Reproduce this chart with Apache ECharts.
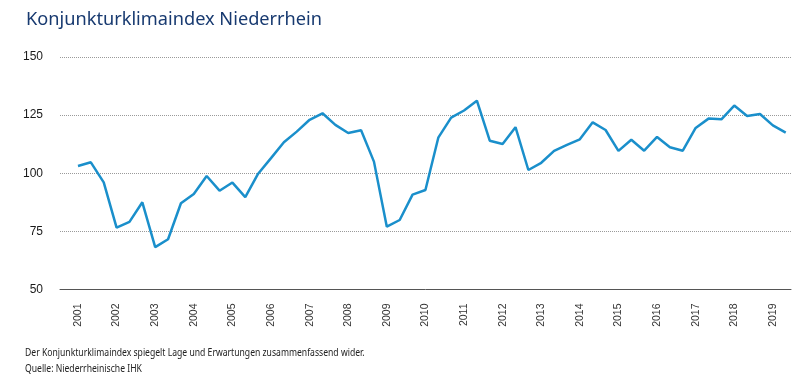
<!DOCTYPE html>
<html>
<head>
<meta charset="utf-8">
<script src="https://cdn.jsdelivr.net/npm/echarts@6/dist/echarts.min.js"></script>
<style>
html,body{margin:0;padding:0;background:#fff;}
#c{width:810px;height:384px;}
</style>
</head>
<body>
<div id="c"></div>
<script>
// Data (3 surveys per year, starting 2001)
const titleText = "Konjunkturklimaindex Niederrhein";
const noteLines = [
  "Der Konjunkturklimaindex spiegelt Lage und Erwartungen zusammenfassend wider.",
  "Quelle: Niederrheinische IHK"
];
const startYear = 2001;
const surveysPerYear = 3;
const yearLabels = [2001,2002,2003,2004,2005,2006,2007,2008,2009,2010,2011,2012,2013,2014,2015,2016,2017,2018,2019];
const indexValues = [
  103.1,104.7,96.1,
  76.6,79.1,87.5,
  68.2,71.6,87.1,
  91.1,98.8,92.5,
  96.0,89.7,99.8,
  106.5,113.3,117.9,
  123.0,125.8,120.8,
  117.3,118.5,105.0,
  77.0,79.9,90.8,
  92.8,115.3,123.9,
  127.0,131.2,114.0,
  112.6,119.8,101.4,
  104.5,109.6,112.2,
  114.6,121.9,118.6,
  109.6,114.4,109.7,
  115.6,111.2,109.7,
  119.5,123.5,123.2,
  129.1,124.6,125.5,
  120.6,117.5
];
const yTicks = [50,75,100,125,150];

const seriesData = indexValues.map((v,i)=>[startYear + i/surveysPerYear, v]);

const chart = echarts.init(document.getElementById('c'), null, {renderer:'canvas'});
chart.setOption({
  animation:false,
  backgroundColor:'#ffffff',
  title:[
    {text:titleText, left:21, top:6,
     textStyle:{fontFamily:'Noto Sans', fontSize:18.2, fontWeight:'normal', color:'#183a70'}}
  ],
  graphic:[
    {type:'text', left:25, top:348, scaleX:0.82, scaleY:1,
     style:{text:noteLines[0], font:'10.5px "Noto Sans"', fill:'#222'}},
    {type:'text', left:25, top:364, scaleX:0.82, scaleY:1,
     style:{text:noteLines[1], font:'10.5px "Noto Sans"', fill:'#222'}}
  ],
  grid:{left:60, right:19, top:57, bottom:94.5},
  xAxis:{
    type:'value',
    min:2000.534, max:2019.47,
    axisLine:{show:true, onZero:false, lineStyle:{color:'#555', width:1}},
    axisTick:{show:false},
    splitLine:{show:false},
    axisLabel:{
      customValues:yearLabels,
      rotate:90, margin:14, fontSize:10.5,
      fontFamily:'Liberation Sans', color:'#333',
      formatter:(v)=>String(Math.round(v))
    }
  },
  yAxis:{
    type:'value', min:yTicks[0], max:yTicks[yTicks.length-1], interval:25,
    axisLine:{show:false}, axisTick:{show:false},
    axisLabel:{fontSize:12, fontFamily:'Liberation Sans', color:'#1a1a1a', margin:17},
    splitLine:{show:true, lineStyle:{type:[1,1], color:'#9a9a9a', width:1}}
  },
  series:[{
    type:'line', data:seriesData, showSymbol:false, symbol:'none',
    lineStyle:{color:'#1a8fcb', width:2.5}, z:5
  }]
});
</script>
</body>
</html>
